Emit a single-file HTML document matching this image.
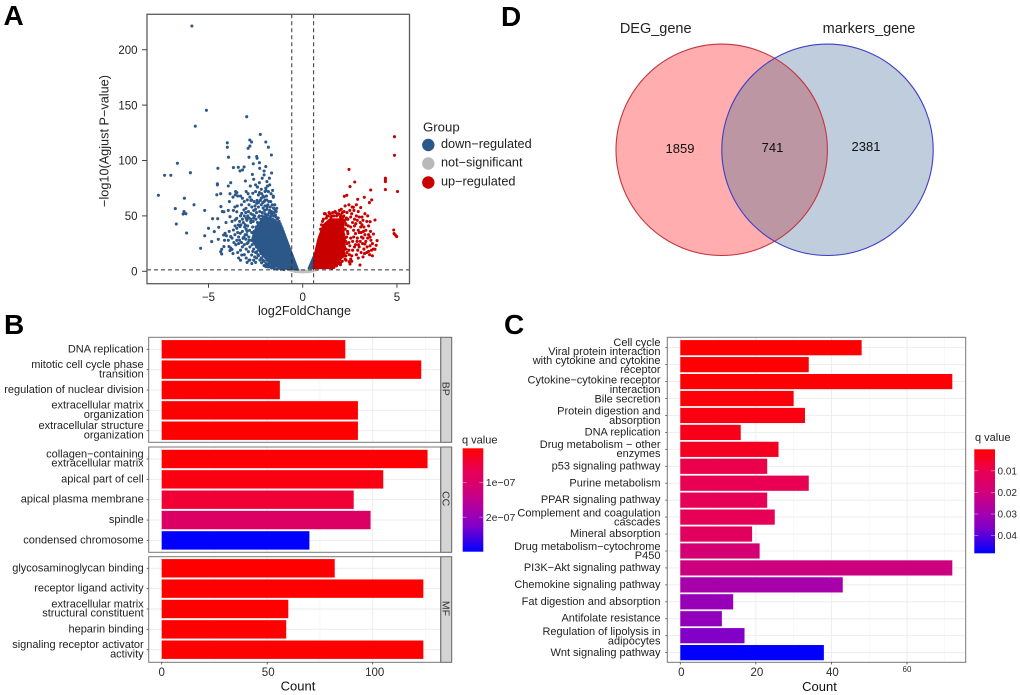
<!DOCTYPE html>
<html lang="en">
<head>
<meta charset="utf-8">
<title>Volcano plot, GO and KEGG enrichment, and Venn diagram</title>
<style>
html,body{margin:0;padding:0;background:#fff;}
svg{display:block;font-family:"Liberation Sans",Arial,sans-serif;}
</style>
</head>
<body>
<svg id="figure" xmlns="http://www.w3.org/2000/svg" width="1020" height="695" viewBox="0 0 1020 695">
  <defs>
    <clipPath id="venn-left-clip"><circle cx="721.7" cy="149.8" r="105.7"/></clipPath>
  </defs>
  <text x="3.5" y="25" font-size="28" font-weight="bold" fill="#000">A</text>
  <text x="4" y="334" font-size="28" font-weight="bold" fill="#000">B</text>
  <text x="504" y="334" font-size="28" font-weight="bold" fill="#000">C</text>
  <text x="501" y="26" font-size="28" font-weight="bold" fill="#000">D</text>

  <g id="panel-a"></g>
  <g id="panel-b"></g>
  <g id="panel-c"></g>

  <g id="panel-d">
    <circle cx="721.7" cy="149.8" r="105.7" fill="#ffadaf"/>
    <circle cx="827.5" cy="149.8" r="105.7" fill="#bfcddd"/>
    <circle cx="827.5" cy="149.8" r="105.7" fill="#bd96a4" clip-path="url(#venn-left-clip)"/>
    <circle cx="721.7" cy="149.8" r="105.7" fill="none" stroke="#c4343f" stroke-width="1.1"/>
    <circle cx="827.5" cy="149.8" r="105.7" fill="none" stroke="#3f3fc4" stroke-width="1.1"/>
    <text x="655.7" y="33" font-size="14.5" text-anchor="middle" fill="#222">DEG_gene</text>
    <text x="869" y="33" font-size="14.5" text-anchor="middle" fill="#222">markers_gene</text>
    <text x="680" y="153" font-size="13" text-anchor="middle" fill="#111">1859</text>
    <text x="772.5" y="152" font-size="13" text-anchor="middle" fill="#111">741</text>
    <text x="866" y="151" font-size="13" text-anchor="middle" fill="#111">2381</text>
  </g>
</svg>

<script>
/* ---------- Panel A data: log2FoldChange, -log10(adjusted P) ---------- */
const volcanoXTicks = [-5, 0, 5];
const volcanoYTicks = [0, 50, 100, 150, 200];
const foldChangeCutoff = 0.58;
const significanceCutoff = 1.3;
const downPoints = [
[-5.88,221.4],[-5.11,145.3],[-2.97,139.5],[-5.70,131],[-2.25,123.6],[-7.66,68.6],[-7.33,86.6],[-7.0,86.6],[-6.65,97.5],[-5.96,89],
[-6.28,66],[-6.76,56.6],[-6.71,42.7],[-6.3,54],[-6.2,52],[-6.35,51.7],[-5.77,60],[-5.2,55],[-6.16,34.6],[-5.42,20.8],
[-4.0,116],[-4.0,112],[-3.94,103],[-4.5,93],[-3.68,93.6],[-3.42,93.9],[-3.11,94.2],[-3.19,91.5],[-3.33,90.6],[-3.04,81.5],
[-2.81,118.5],[-2.71,116.7],[-2.9,111],[-2.8,113],[-1.96,116.7],[-1.82,112],[-1.66,105],[-2.85,103],[-2.44,103.5],[-2.42,102],
[-2.62,97],[-2.3,98],[-1.96,94.5],[-2.28,93],[-2.05,90.5],[-1.65,88.7],[-2.67,87.5],[-2.05,87],[-1.77,84],[-1.9,81],
[-1.87,77],[-1.96,75],[-2.0,72],[-1.6,73],[-4.53,78],[-4.53,79],[-3.82,80],[-3.95,77],[-4.35,70],[-4.56,69],
[-3.86,70],[-3.56,72],[-3.5,71],[-3.58,69],[-3.45,68],[-3.7,67],[-4.78,47.5],[-4.51,47.5],[-5.0,38.8],[-5.2,32],
[-4.69,35.8],[-4.46,39.7],[-4.83,26.8],[-4.48,28.9],[-4.07,44],[-4.2,32.8],[-4.12,34.3],[-4.05,32],[-4.18,22.3],[-4.3,19.9],
[-4.3,15.6],[-4.35,17.7],[-3.91,22.3],[-3.82,21],[-3.86,18.7],[-3.75,19.8],[-3.82,31.3],[-3.68,37.3],[-3.5,38.8],[-3.59,41],
[-3.42,41.8],[-3.33,40.3],[-3.59,46.3],[-3.5,47.8],[-3.86,49.3],[-3.95,55],[-3.89,62.9],[-4.27,54],[-4.18,53.7],[-4.34,58.4],
[-3.47,59],[-3.68,55],[-3.5,53.7],[-3.24,52.3],[-3.12,55.4],[-3.01,56.9],[-2.94,64.4],[-2.71,64.4],[-2.58,62.9],[-2.65,70.4],
[-2.35,68.9],[-1.95,72.8],[-1.82,71.9],[-1.56,66.8],[-1.56,68],[-1.38,56.9],[-1.47,55.4],[-1.91,64.4],[-2.05,62.9],[-2.44,61.4],
[-2.53,59],[-2.88,53.9],[-3.0,47.8],[-3.31,34.3],[-3.17,29.8],[-3.24,14.7],[-2.88,17.7],[-2.71,14.7],[-2.8,10.2],[-2.27,10.2],
[-2.18,7.8],[-2.05,5.1],[-1.96,4.2],[-2.44,17.7],[-3.1,24],[-3.35,28],[-3.4,25],[-3.0,38],[-3.15,44],[-3.05,42],
[-2.92,50],[-2.75,52],[-2.6,55],[-2.45,53],[-2.35,58],[-2.2,60],[-2.1,57],[-2.0,59],[-1.85,60],[-1.75,55],
[-1.65,52],[-1.55,50],[-1.45,51],[-1.3,48],[-1.25,45],[-1.2,43],[-1.15,41],[-2.3,50],[-2.15,50],[-2.0,52],
[-1.85,51],[-1.7,50],[-2.6,48],[-2.75,44],[-2.95,36],[-3.05,33],[-3.2,22],[-3.0,20],[-2.95,25],[-2.85,28],
[-2.65,18],[-2.55,13],[-2.45,12],[-2.35,14],[-2.2,12],[-2.1,10],[-1.85,6],[-1.7,5],[-1.55,4],[-3.65,26],
[-3.55,24],[-3.75,30],[-3.3,19],[-3.45,17],[-4.15,28],[-2.4,76],[-2.5,72],[-2.2,66],[-2.1,68],[-2.78,77],
[-2.85,60],[-3.1,63],[-3.25,60],[-2.3,80],[-1.75,78],[-1.7,63],
[-2.75,47],[-2.62,45],[-2.55,50],[-2.48,47],[-2.4,44],[-2.33,49],[-2.28,54],[-2.22,47],[-2.15,53],[-2.08,49],
[-2.02,55],[-1.95,51],[-1.9,56],[-1.82,48],[-1.78,53],[-1.72,49],[-1.66,54],[-1.6,47],[-1.55,53],[-1.5,46],
[-1.42,49],[-1.35,47],[-1.28,44],[-1.22,40],[-1.1,39],[-1.05,36],
[-3.2,36],[-3.12,31],[-3.08,40],[-3.02,29],[-2.98,33],[-2.92,41],[-2.9,26],[-2.86,31],[-2.82,37],[-2.8,22],
[-2.76,45],[-2.74,28],[-2.7,35],[-2.68,24],[-2.66,40],[-2.62,30],[-2.6,20],[-2.58,36],[-2.55,26],[-2.52,33],
[-2.5,17],[-2.48,40],[-2.46,22],[-2.42,36],[-2.4,28],[-2.38,15],[-2.35,42],[-2.32,20],[-2.3,32],[-2.28,25],
[-2.26,38],[-2.22,16],[-2.2,12],[-2.15,18],[-2.1,14],[-2.05,9],[-2.0,13],[-1.95,7],[-1.9,10],[-1.85,4],
[-1.8,7],[-1.75,4],[-1.7,8],[-1.65,3],[-1.6,6],[-1.5,3],[-1.45,5],[-1.35,2],[-1.25,3],[-1.15,2],[-1.0,1.5],
[-3.3,50],[-3.2,47],[-3.1,50],[-3.02,53],[-2.96,46],[-2.85,48],[-2.7,58],[-2.65,51],[-2.5,56],[-2.42,64],
[-2.35,62],[-2.3,71],[-2.25,64],[-2.18,70],[-2.12,62],[-2.05,67],[-2.0,64],[-1.92,68],[-1.88,58],[-1.8,63],
[-1.72,58],[-1.68,70],[-1.62,60],[-1.55,57],[-1.4,54],[-1.48,60],
[-3.6,33],[-3.5,28],[-3.45,35],[-3.4,31],[-3.35,45],[-3.28,42],[-3.25,26],[-3.6,58],[-3.3,68],[-3.2,66],
[-2.9,70],[-2.8,67],[-2.75,64],[-3.0,72],[-2.6,83],[-2.5,78],[-2.2,74],[-2.15,84],[-3.75,45],[-3.9,36],
[-3.95,28],[-3.7,16],[-3.4,12],[-3.3,10],[-3.1,15],[-3.0,12],[-2.95,8],[-2.85,10],[-2.7,7],[-2.6,10],[-2.5,8]
];
const upPoints = [
[4.87,121.5],[4.87,104.7],[2.46,92],[2.76,80.6],[4.39,84],[4.39,82.5],[4.39,81],[4.39,73.7],[5.03,72],[3.61,73.4],
[2.51,76.4],[2.34,68.6],[2.21,67.7],[2.92,65],[3.27,66.8],[3.66,64.4],[3.54,62],[2.25,59],[2.69,57.8],[3.08,57.5],
[2.5,55],[2.35,53],[2.1,53],[1.85,51],[1.55,50],[1.2,52],[1.3,50],[1.45,52],[2.6,52],[2.85,50],
[3.45,50],[3.84,46.3],[3.58,44.8],[4.83,37.3],[4.85,34],[4.92,32.8],[4.99,31.3],[3.95,27.7],[3.75,33.7],[3.84,19.9],
[3.9,23.5],[3.3,24.6],[3.58,23],[3.04,5.7],[2.51,6.6],[2.47,8.7],[2.0,7.3],[2.3,10],[2.6,14],[2.85,15],
[3.1,17],[3.25,20],[3.4,17],[3.55,15],[3.7,14],[3.2,13],[2.95,12],[2.75,22],[2.65,27],[2.45,19],
[2.35,25],[2.25,30],[2.4,34],[2.55,40],[2.65,44],[2.75,47],[2.9,46],[3.05,44],[3.15,42],[3.25,40],
[3.35,37],[3.3,33],[3.2,30],[3.05,27],[2.9,30],[2.8,34],[2.7,37],[2.95,37],[3.1,35],[3.45,30],
[2.3,42],[2.2,45],[2.4,47],[2.15,49],[2.0,49],[2.25,38],[2.3,20],[2.2,16],[2.1,13],[2.55,30],
[3.62,28],[3.5,33],[3.15,49],[3.3,52],[2.95,54],[2.05,56],[1.75,53],[2.8,24],[3.0,22],[3.65,19],
[0.95,38],[1.0,42],[1.05,45],[1.1,47],[1.15,52],[1.25,48],[1.35,50],[1.4,53],[1.5,49],[1.6,53],
[1.65,50],[1.72,54],[1.8,50],[1.9,52],[1.95,55],[2.02,51],[2.08,48],[2.12,45],[2.18,50],[2.25,46],
[2.28,43],[2.32,48],[2.02,43],[2.05,39],[2.1,36],[2.08,32],[2.12,29],[2.15,25],[2.18,33],[2.2,28],
[2.22,22],[2.12,19],[2.05,16],[2.0,13],[1.92,10],[1.88,7],[1.8,5],[1.72,5],[1.65,3.5],[1.55,3],
[2.18,14],[2.1,9],[2.0,6],[2.25,11],[2.3,14],[2.35,17],[2.28,27],[2.33,31],[2.38,36],[2.42,41],
[2.45,26],[2.5,23],[2.48,15],[2.55,11],[2.6,9],[2.65,19],[2.7,31],[2.75,41],[2.82,43],[2.88,27],
[2.92,19],[2.96,24],[3.0,35],[3.08,40],[3.12,31],[3.18,25],[3.22,36],[3.28,16],[3.35,27],[3.42,22],
[3.5,18],[3.58,31],[3.6,36],[3.7,25],[3.75,20],[2.55,49],[2.62,58],[2.72,55],[2.45,60],[2.2,54],
[2.85,60],[3.0,49],[3.2,46],[3.4,45],[3.5,41]
];
/* dense cores of the cloud, traced as outlines in data units */
const downCloud = [[-0.23,1.2],[-0.67,20.8],[-1.03,37.3],[-1.38,44.8],[-2.0,50],[-2.4,42],[-2.6,35],[-2.7,28],[-2.3,18],[-1.8,8],[-1.2,2.5]];
const downNearZeroCloud = [[0.3,2.7],[0.56,13.2],[0.56,2.7]];
const upCloud = [[0.56,2.7],[0.62,14.7],[0.83,29.8],[1.09,41.8],[1.45,47.2],[2.15,47],[2.2,30],[2.25,20],[1.95,8],[1.55,2.7]];
const flatCloud = [[-0.8,1.2],[-0.4,1.2],[0,0.6],[0.4,1.2],[0.8,1.2],[0.4,-0.8],[0,-1.2],[-0.4,-0.8]];

/* ---------- Panel B data ---------- */
const goFacets = ["BP", "CC", "MF"];
const goTermsBP = ["DNA replication", "mitotic cell cycle phase\ntransition", "regulation of nuclear division", "extracellular matrix\norganization", "extracellular structure\norganization"];
const goCountsBP = [87, 123, 56, 93, 93];
const goQBP = [0.002e-7, 0.002e-7, 0.002e-7, 0.002e-7, 0.002e-7];
const goTermsCC = ["collagen\u2212containing\nextracellular matrix", "apical part of cell", "apical plasma membrane", "spindle", "condensed chromosome"];
const goCountsCC = [126, 105, 91, 99, 70];
const goQCC = [0.03e-7, 0.12e-7, 0.4e-7, 0.9e-7, 2.99e-7];
const goTermsMF = ["glycosaminoglycan binding", "receptor ligand activity", "extracellular matrix\nstructural constituent", "heparin binding", "signaling receptor activator\nactivity"];
const goCountsMF = [82, 124, 60, 59, 124];
const goQMF = [0.002e-7, 0.002e-7, 0.002e-7, 0.002e-7, 0.002e-7];
const goCountTicks = [0, 50, 100];
const goLegendTicks = [1e-7, 2e-7];
const goLegendLabels = ["1e\u221207", "2e\u221207"];

/* ---------- Panel C data ---------- */
const keggTerms = ["Cell cycle", "Viral protein interaction\nwith cytokine and cytokine\nreceptor", "Cytokine\u2212cytokine receptor\ninteraction", "Bile secretion", "Protein digestion and\nabsorption", "DNA replication", "Drug metabolism \u2212 other\nenzymes", "p53 signaling pathway", "Purine metabolism", "PPAR signaling pathway", "Complement and coagulation\ncascades", "Mineral absorption", "Drug metabolism\u2212cytochrome\nP450", "PI3K\u2212Akt signaling pathway", "Chemokine signaling pathway", "Fat digestion and absorption", "Antifolate resistance", "Regulation of lipolysis in\nadipocytes", "Wnt signaling pathway"];
const keggCounts = [48, 34, 72, 30, 33, 16, 26, 23, 34, 23, 25, 19, 21, 72, 43, 14, 11, 17, 38];
const keggQ = [0.0001, 0.0005, 0.0005, 0.001, 0.002, 0.003, 0.004, 0.009, 0.010, 0.011, 0.011, 0.013, 0.018, 0.021, 0.029, 0.032, 0.033, 0.036, 0.048];
const keggCountTicks = [0, 20, 40, 60];
const keggLegendTicks = [0.01, 0.02, 0.03, 0.04];
const keggLegendLabels = ["0.01", "0.02", "0.03", "0.04"];

/* ---------- helpers ---------- */
const SVGNS = "http://www.w3.org/2000/svg";
function mk(parent, tag, attrs, text) {
  const el = document.createElementNS(SVGNS, tag);
  for (const k in attrs) el.setAttribute(k, attrs[k]);
  if (text !== undefined) el.textContent = text;
  parent.appendChild(el);
  return el;
}
const rampStops = [[0,"#ff0000"],[0.2,"#ea0050"],[0.44,"#cc0080"],[0.6,"#a800aa"],[0.75,"#8200c8"],[1,"#0000ff"]];
function hexRgb(h){return [parseInt(h.slice(1,3),16),parseInt(h.slice(3,5),16),parseInt(h.slice(5,7),16)];}
function ramp(t){
  t = Math.max(0, Math.min(1, t));
  for (let i = 1; i < rampStops.length; i++) {
    if (t <= rampStops[i][0]) {
      const a = rampStops[i-1], b = rampStops[i], f = (t-a[0])/(b[0]-a[0]);
      const ca = hexRgb(a[1]), cb = hexRgb(b[1]);
      return "rgb(" + ca.map((v,j)=>Math.round(v+(cb[j]-v)*f)).join(",") + ")";
    }
  }
  return rampStops[rampStops.length-1][1];
}
function barLabel(parent, text, x, y, lineGap, shift) {
  const lines = text.split("\n");
  const group = mk(parent, "text", {x:x, y:y, "font-size":11, "text-anchor":"end", fill:"#222"});
  
  
  lines.forEach((ln, i) => {
    const yy = y + shift + (i - (lines.length-1)/2) * lineGap;
    mk(group, "tspan", {x:x, y:yy}, ln);
  });
}
function colorLegend(parent, id, x, y0, y1, w, qToY, ticks, labels, title, titleX, titleY, fs) {
  const defs = mk(parent, "defs", {});
  const grad = mk(defs, "linearGradient", {id:id, x1:0, y1:0, x2:0, y2:1});
  rampStops.forEach(s => mk(grad, "stop", {offset:s[0], "stop-color":s[1]}));
  const t = mk(parent, "text", {x:titleX, y:titleY, "font-size":11, fill:"#222"}, title);
  
  
  const bar = mk(parent, "rect", {x:x, y:y0, width:w, height:y1-y0, fill:"url(#"+id+")"});
  
  
  ticks.forEach((q,i) => {
    const yy = qToY(q);
    const l1 = mk(parent, "line", {x1:x, x2:x+4, y1:yy, y2:yy, stroke:"#fff", "stroke-opacity":0.55, "stroke-width":0.7});
    
    
    const l2 = mk(parent, "line", {x1:x+w-4, x2:x+w, y1:yy, y2:yy, stroke:"#fff", "stroke-opacity":0.55, "stroke-width":0.7});
    
    
    const tx = mk(parent, "text", {x:x+w+2.5, y:yy+3.6, "font-size":fs, fill:"#2b2b2b"}, labels[i]);
    
    
  });
}

/* ---------- Panel A ---------- */
(function(){
  const g = document.getElementById("panel-a");
  const vx = v => 302.7 + v * 18.84;
  const vy = v => 271.3 - v * 1.108;
  const frameL = 147, frameR = 409.5, frameT = 14.3, frameB = 283.7;
  const poly = (pts, fill, name) => {
    const p = mk(g, "polygon", {points: pts.map(d => vx(d[0]).toFixed(1)+","+vy(d[1]).toFixed(1)).join(" "), fill:fill, stroke:fill, "stroke-width":1.6, "stroke-linejoin":"round"});
    
    
  };
  poly(flatCloud, "#c0c0c0", "not-significant-cloud");
  poly(downCloud, "#2c5789", "down-regulated-cloud");
  poly(downNearZeroCloud, "#2c5789", "down-regulated-cloud-near-zero");
  poly(upCloud, "#c80000", "up-regulated-cloud");
  downPoints.forEach(d => {
    const c = mk(g, "circle", {cx:vx(d[0]).toFixed(1), cy:vy(d[1]).toFixed(1), r:1.55, fill:"#2c5789"});
    
    
  });
  upPoints.forEach(d => {
    const c = mk(g, "circle", {cx:vx(d[0]).toFixed(1), cy:vy(d[1]).toFixed(1), r:1.55, fill:"#c80000"});
    
    
  });
  [-foldChangeCutoff, foldChangeCutoff].forEach(v => {
    const l = mk(g, "line", {x1:vx(v), x2:vx(v), y1:frameT, y2:frameB, stroke:"#333", "stroke-width":1, "stroke-dasharray":"4 3"});
    
    
  });
  const hl = mk(g, "line", {x1:frameL, x2:frameR, y1:vy(significanceCutoff), y2:vy(significanceCutoff), stroke:"#333", "stroke-width":1, "stroke-dasharray":"4 3"});
  
  
  const fr = mk(g, "rect", {x:frameL, y:frameT, width:frameR-frameL, height:frameB-frameT, fill:"none", stroke:"#5a5a5a", "stroke-width":1.3});
  
  
  volcanoXTicks.forEach(v => {
    const t = mk(g, "line", {x1:vx(v), x2:vx(v), y1:frameB, y2:frameB+4, stroke:"#444", "stroke-width":1});
    
    
    const tx = mk(g, "text", {x:vx(v), y:301, "font-size":11.5, "text-anchor":"middle", fill:"#222"}, String(v).replace("-", "\u2212"));
    
    
  });
  volcanoYTicks.forEach(v => {
    const t = mk(g, "line", {x1:frameL-5, x2:frameL, y1:vy(v), y2:vy(v), stroke:"#444", "stroke-width":1});
    
    
    const tx = mk(g, "text", {x:137.5, y:vy(v)+4.2, "font-size":11.5, "text-anchor":"end", fill:"#222"}, String(v));
    
    
  });
  const xt = mk(g, "text", {x:304.5, y:315, "font-size":12.7, "text-anchor":"middle", fill:"#222"}, "log2FoldChange");
  
  
  const yt = mk(g, "text", {x:0, y:0, "font-size":12.7, "text-anchor":"middle", fill:"#222", transform:"translate(108.5,141) rotate(-90)"}, "\u2212log10(Agjust P\u2212value)");
  
  
  const lt = mk(g, "text", {x:423, y:131.5, "font-size":13.2, fill:"#222"}, "Group");
  
  
  [["down\u2212regulated","#2c5789",145],["not\u2212significant","#b9b9b9",163.5],["up\u2212regulated","#c80000",182.5]].forEach(e => {
    const c = mk(g, "circle", {cx:428.3, cy:e[2], r:6.2, fill:e[1]});
    
    
    const t = mk(g, "text", {x:441, y:e[2]+3.2, "font-size":12.7, fill:"#222"}, e[0]);
    
    
  });
})();

/* ---------- Panel B ---------- */
(function(){
  const g = document.getElementById("panel-b");
  const bx = v => 161.7 + v * 2.11;
  const L = 148.7, R = 440.7, SR = 451.7;
  const facets = [
    {name:goFacets[0], terms:goTermsBP, counts:goCountsBP, q:goQBP, top:337.3, bottom:442.3, first:349.3},
    {name:goFacets[1], terms:goTermsCC, counts:goCountsCC, q:goQCC, top:447, bottom:552.3, first:459},
    {name:goFacets[2], terms:goTermsMF, counts:goCountsMF, q:goQMF, top:556.7, bottom:662.3, first:568.3}
  ];
  const qMax = 2.99e-7;
  facets.forEach(f => {
    const by = i => f.first + i * 20.35;
    goCountTicks.concat([25, 75, 125]).forEach(v => {
      const major = goCountTicks.indexOf(v) >= 0;
      const l = mk(g, "line", {x1:bx(v), x2:bx(v), y1:f.top, y2:f.bottom, stroke:major?"#ebebeb":"#f3f3f3", "stroke-width":major?0.9:0.6});
      
      
    });
    f.terms.forEach((term, i) => {
      const l = mk(g, "line", {x1:L, x2:R, y1:by(i), y2:by(i), stroke:"#ebebeb", "stroke-width":0.9});
      
      
      const b = mk(g, "rect", {x:bx(0), y:by(i)-9.2, width:bx(f.counts[i])-bx(0), height:18.4, fill:ramp(f.q[i]/qMax)});
      
      
      const tk = mk(g, "line", {x1:L-2, x2:L, y1:by(i), y2:by(i), stroke:"#444", "stroke-width":0.8});
      
      
      barLabel(g, term, 143.7, by(i), 9.3, 3);
    });
    const s = mk(g, "rect", {x:R, y:f.top, width:SR-R, height:f.bottom-f.top, fill:"#d4d4d4", stroke:"#666", "stroke-width":1});
    
    
    const st = mk(g, "text", {x:0, y:0, "font-size":10.5, "text-anchor":"middle", fill:"#333", transform:"translate(442.3,"+((f.top+f.bottom)/2-1)+") rotate(90)"}, f.name);
    
    
    const fr = mk(g, "rect", {x:L, y:f.top, width:R-L, height:f.bottom-f.top, fill:"none", stroke:"#777", "stroke-width":1});
    
    
  });
  goCountTicks.forEach(v => {
    const t = mk(g, "line", {x1:bx(v), x2:bx(v), y1:662.3, y2:664.5, stroke:"#444", "stroke-width":0.8});
    
    
    const tx = mk(g, "text", {x:bx(v)+v*0.02, y:676, "font-size":11.5, "text-anchor":"middle", fill:"#2b2b2b"}, String(v));
    
    
  });
  const xt = mk(g, "text", {x:298, y:690.5, "font-size":13, "text-anchor":"middle", fill:"#111"}, "Count");
  
  
  colorLegend(g, "grad-go", 462.7, 448.3, 551.7, 20.6, q => 448 + q / 1e-7 * 34.6, goLegendTicks, goLegendLabels, "q value", 462, 443.5, 10.5);
})();

/* ---------- Panel C ---------- */
(function(){
  const g = document.getElementById("panel-c");
  const bx = v => 680.3 + v * 3.778;
  const by = i => 347.7 + i * 16.94;
  const L = 667.3, R = 965.7, T = 337.3, B = 662.3;
  const qMax = 0.0481;
  /* the original's labels sit slightly off their bars */
  const labelNudge = [-5.4,-4.4,2.9,0,0,-0.7,-0.7,-0.6,-0.5,-0.9,0,-0.7,-0.2,-0.6,-0.6,-0.5,-0.8,0.3,-0.3];
  keggCountTicks.concat([10, 30, 50, 70]).forEach(v => {
    const major = keggCountTicks.indexOf(v) >= 0;
    const l = mk(g, "line", {x1:bx(v), x2:bx(v), y1:T, y2:B, stroke:major?"#ebebeb":"#f3f3f3", "stroke-width":major?0.9:0.6});
    
    
  });
  keggTerms.forEach((term, i) => {
    const l = mk(g, "line", {x1:L, x2:R, y1:by(i), y2:by(i), stroke:"#ebebeb", "stroke-width":0.9});
    
    
    const b = mk(g, "rect", {x:bx(0), y:by(i)-7.6, width:bx(keggCounts[i])-bx(0), height:15.2, fill:ramp(keggQ[i]/qMax)});
    
    
    const tk = mk(g, "line", {x1:L-2, x2:L, y1:by(i), y2:by(i), stroke:"#444", "stroke-width":0.8});
    
    
    barLabel(g, term, 660.5, by(i) + labelNudge[i], 9.2, 3.8);
  });
  const fr = mk(g, "rect", {x:L, y:T, width:R-L, height:B-T, fill:"none", stroke:"#777", "stroke-width":1});
  
  
  keggCountTicks.forEach(v => {
    const t = mk(g, "line", {x1:bx(v), x2:bx(v), y1:B, y2:B+2.2, stroke:"#444", "stroke-width":0.8});
    
    
    const small = v === 60;
    const tx = mk(g, "text", {x:bx(v)+(small?0:1), y:small?672:676, "font-size":small?8:11.5, "text-anchor":"middle", fill:"#2b2b2b"}, String(v));
    
    
  });
  const xt = mk(g, "text", {x:819.5, y:691, "font-size":13, "text-anchor":"middle", fill:"#111"}, "Count");
  
  
  colorLegend(g, "grad-kegg", 974.3, 449.3, 553.3, 20.7, q => 449.2 + q / 0.01 * 21.6, keggLegendTicks, keggLegendLabels, "q value", 975, 441, 10);
})();
</script>
</body>
</html>
